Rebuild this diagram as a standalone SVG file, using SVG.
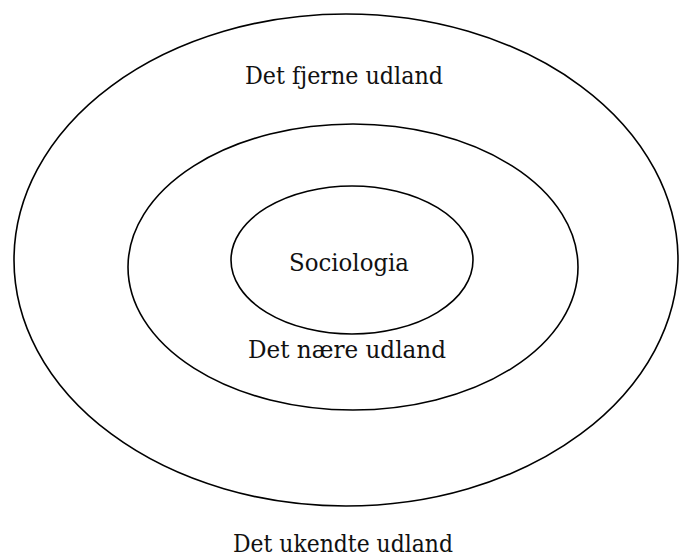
<svg xmlns="http://www.w3.org/2000/svg" width="679" height="559" viewBox="0 0 679 559">
<style>
.ring{fill:none;stroke:#000;stroke-width:1.6}
.lbl{font-family:"DejaVu Serif","Liberation Serif",serif;font-size:24.5px;fill:#111;text-anchor:middle}
</style>
<rect width="679" height="559" fill="#fff"/>
<g id="outer"><ellipse class="ring" cx="346" cy="260" rx="332" ry="246"/><text class="lbl" x="344" y="84" textLength="198" lengthAdjust="spacingAndGlyphs">Det fjerne udland</text></g>
<g id="middle"><ellipse class="ring" cx="353" cy="267" rx="225" ry="143"/><text class="lbl" x="347" y="358" textLength="198" lengthAdjust="spacingAndGlyphs">Det nære udland</text></g>
<g id="inner"><ellipse class="ring" cx="352" cy="260" rx="121" ry="74"/><text class="lbl" x="349" y="271" textLength="120" lengthAdjust="spacingAndGlyphs">Sociologia</text></g>
<g id="outside"><text class="lbl" x="343" y="552" textLength="220" lengthAdjust="spacingAndGlyphs">Det ukendte udland</text></g>
<g id="connectors"></g>
</svg>
